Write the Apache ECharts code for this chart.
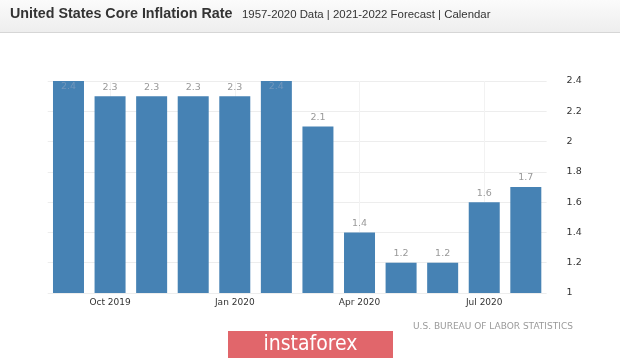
<!DOCTYPE html>
<html>
<head>
<meta charset="utf-8">
<script src="https://cdn.jsdelivr.net/npm/echarts@6/dist/echarts.min.js"></script>
<style>
html,body{margin:0;padding:0;background:#fff;}
#chart{width:620px;height:360px;}
</style>
</head>
<body>
<div id="chart"></div>
<script>
var categories = ["Sep 2019","Oct 2019","Nov 2019","Dec 2019","Jan 2020","Feb 2020","Mar 2020","Apr 2020","May 2020","Jun 2020","Jul 2020","Aug 2020"];
var coreInflation = [2.4, 2.3, 2.3, 2.3, 2.3, 2.4, 2.1, 1.4, 1.2, 1.2, 1.6, 1.7];
var yTicks = [1, 1.2, 1.4, 1.6, 1.8, 2, 2.2, 2.4];
var shownLabels = ["Oct 2019","Jan 2020","Apr 2020","Jul 2020"];
var titleText = "United States Core Inflation Rate";
var subtitleText = "1957-2020 Data | 2021-2022 Forecast | Calendar";
var sourceText = "U.S. BUREAU OF LABOR STATISTICS";
var logoText = "instaforex";

var yMax = yTicks[yTicks.length - 1];
var chart = echarts.init(document.getElementById('chart'), null, {renderer: 'canvas'});

var barData = coreInflation.map(function (v) {
  if (v >= yMax) {
    return {value: v, label: {position: 'insideTop', distance: 1, color: '#7196bc'}};
  }
  return v;
});

var option = {
  backgroundColor: '#ffffff',
  animation: false,
  graphic: [
    {type: 'rect', z: -1, shape: {x: 0, y: 0, width: 620, height: 32},
     style: {fill: new echarts.graphic.LinearGradient(0, 0, 0, 1, [{offset: 0, color: '#fbfbfb'}, {offset: 1, color: '#eeeeee'}])}},
    {type: 'line', z: -1, shape: {x1: 0, y1: 32.5, x2: 620, y2: 32.5}, style: {stroke: '#d6d6d6', lineWidth: 1}},
    {type: 'text', left: 413, top: 322,
     style: {text: sourceText, fill: '#9a9a9a', font: '9px "DejaVu Sans"'}},
    {type: 'group', left: 228, top: 331, children: [
      {type: 'rect', shape: {x: 0, y: 0, width: 165, height: 27}, style: {fill: '#e1666b'}},
      {type: 'text', style: {x: 82.5, y: 13.5, text: logoText, fill: '#ffffff', align: 'center', verticalAlign: 'middle',
        font: '21px "Liberation Sans Narrow", "DejaVu Sans Condensed", sans-serif'}}
    ]}
  ],
  title: [
    {text: titleText, left: 10, top: 7, padding: 0,
     textStyle: {fontFamily: 'Liberation Sans, Arial, sans-serif', fontWeight: 'bold', fontSize: 14.3, color: '#333333'}},
    {text: subtitleText, left: 242, top: 9, padding: 0,
     textStyle: {fontFamily: 'Liberation Sans, Arial, sans-serif', fontWeight: 'normal', fontSize: 11.4, color: '#333333'}}
  ],
  grid: {left: 47.7, right: 73.4, top: 81, bottom: 67, containLabel: false},
  xAxis: {
    type: 'category',
    data: categories,
    axisLine: {show: false},
    axisTick: {show: false},
    splitLine: {show: false},
    axisLabel: {
      interval: 0,
      margin: 5,
      color: '#333333',
      fontFamily: 'DejaVu Sans',
      fontSize: 9,
      formatter: function (v) { return shownLabels.indexOf(v) >= 0 ? v : ''; }
    }
  },
  yAxis: {
    type: 'value',
    position: 'right',
    min: yTicks[0],
    max: yMax,
    interval: 0.2,
    axisLine: {show: false},
    axisTick: {show: false},
    splitLine: {lineStyle: {color: '#ededed', width: 1}},
    axisLabel: {
      margin: 20,
      color: '#333333',
      fontFamily: 'DejaVu Sans',
      fontSize: 9.5,
      formatter: function (v) { return String(Math.round(v * 10) / 10); }
    }
  },
  series: [{
    type: 'bar',
    data: barData,
    barWidth: 31,
    itemStyle: {color: '#4682b4'},
    label: {
      show: true,
      position: 'top',
      distance: 4,
      color: '#999999',
      fontFamily: 'DejaVu Sans',
      fontSize: 9.5
    },
    markLine: {
      silent: true,
      symbol: 'none',
      z: 1,
      label: {show: false},
      lineStyle: {color: '#f2f2f2', type: 'solid', width: 1},
      data: shownLabels.map(function (c) { return {xAxis: c}; })
    }
  }]
};
chart.setOption(option);
</script>
</body>
</html>
